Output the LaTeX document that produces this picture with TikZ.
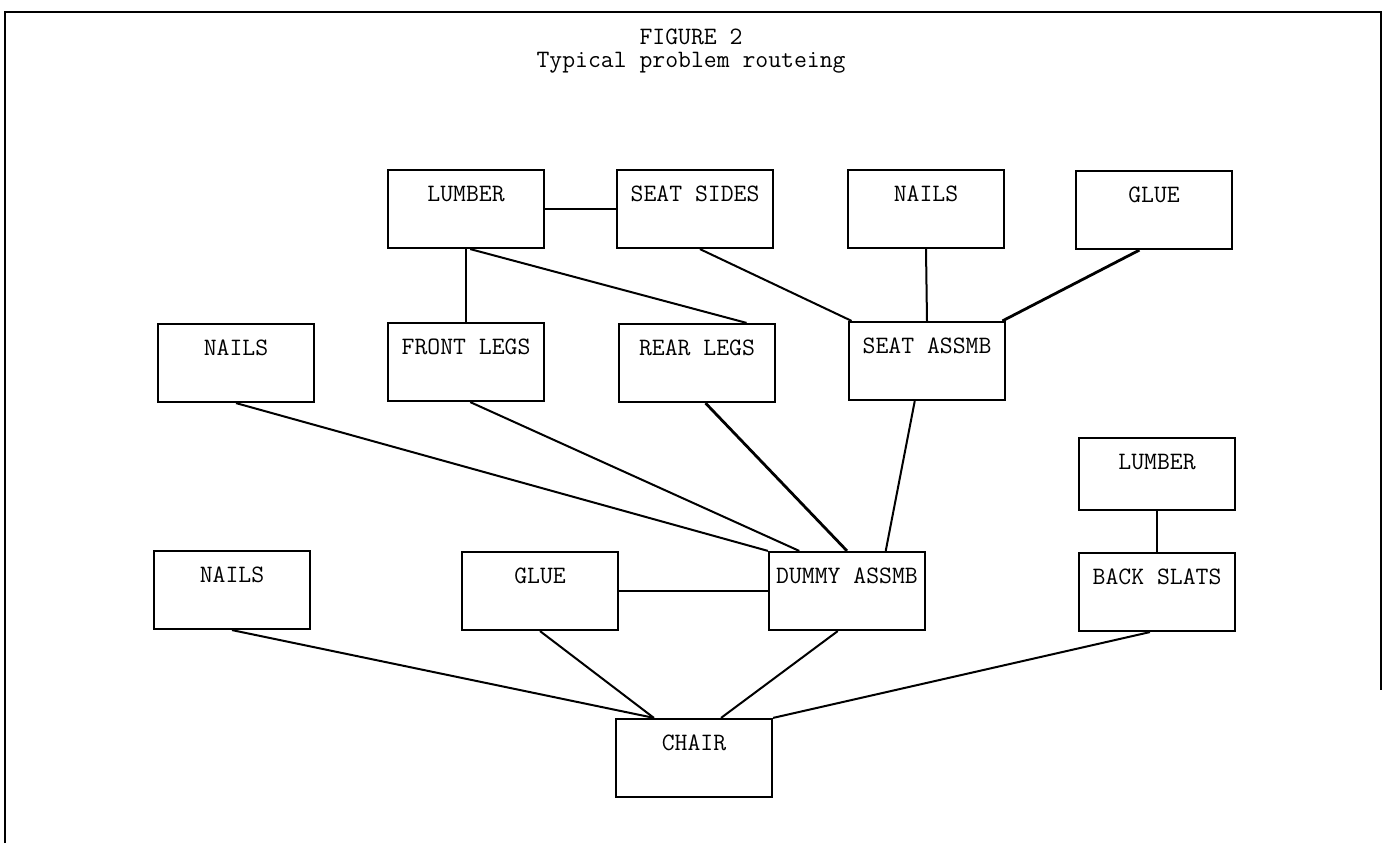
\documentclass[tikz,border=0pt]{standalone}
\begin{document}
\begin{tikzpicture}[x=0.5pt, y=-0.5pt, font=\ttfamily\fontsize{12.5}{14}\selectfont,
	partBox/.style={rectangle, draw=black, line width=1.1pt, minimum width=78pt, inner sep=0pt, text height=16pt, text depth=23pt, align=center},
	titleText/.style={inner sep=0.5pt},
	edge/.style={line width=1pt},
	heavyEdge/.style={line width=1.4pt}]
		\useasboundingbox (0,0) rectangle (1383,844);

		% frame and title
		\draw[line width=1.4pt] (5,843) -- (5,12) -- (1381,12) -- (1381,690);
		\node[titleText](figTitle) at (691,37){FIGURE 2};
		\node[titleText](figCaption) at (691,63){Typical problem routeing};

		% top row
		\node[partBox](lumberTop) at (466,209){LUMBER};
		\node[partBox](seatSides) at (695,209){SEAT SIDES};
		\node[partBox](nailsTop) at (926,209){NAILS};
		\node[partBox](glueTop) at (1154,210){GLUE};

		% middle row
		\node[partBox](nailsMid) at (236,363){NAILS};
		\node[partBox](frontLegs) at (466,362){FRONT LEGS};
		\node[partBox](rearLegs) at (697,363){REAR LEGS};
		\node[partBox](seatAssmb) at (927,361){SEAT ASSMB};
		\node[partBox, text depth=20pt](lumberBack) at (1157,474){LUMBER};

		% bottom row
		\node[partBox](nailsLow) at (232,590){NAILS};
		\node[partBox](glueLow) at (540,591){GLUE};
		\node[partBox](dummyAssmb) at (847,591){DUMMY ASSMB};
		\node[partBox](backSlats) at (1157,592){BACK SLATS};
		\node[partBox](chair) at (694,758){CHAIR};

		% draw lumber edges
		\draw[edge] (lumberTop.east) -- (seatSides.west);
		\draw[edge] (lumberTop.south) -- (frontLegs.north);
		\draw[edge] (lumberTop.-84) -- (rearLegs.39);

		% draw seat edges
		\draw[edge] (seatSides.-83) -- (seatAssmb.152);
		\draw[edge] (nailsTop.south) -- (seatAssmb.north);
		\draw[heavyEdge] (glueTop.-110) -- (seatAssmb.28);

		% draw dummy edges
		\draw[edge] (nailsMid.south) -- (dummyAssmb.north west);
		\draw[edge] (frontLegs.-84) -- (dummyAssmb.140);
		\draw[heavyEdge] (rearLegs.-78) -- (dummyAssmb.north);
		\draw[edge] (seatAssmb.-107) -- (dummyAssmb.46);
		\draw[edge] (glueLow.east) -- (dummyAssmb.west);
		\draw[edge] (lumberBack.south) -- (backSlats.north);

		% draw chair edges
		\draw[edge] (nailsLow.south) -- (chair.135);
		\draw[edge] (glueLow.south) -- (chair.135);
		\draw[edge] (dummyAssmb.-103) -- (chair.56);
		\draw[edge] (backSlats.-100) -- (chair.north east);
\end{tikzpicture}
\end{document}
